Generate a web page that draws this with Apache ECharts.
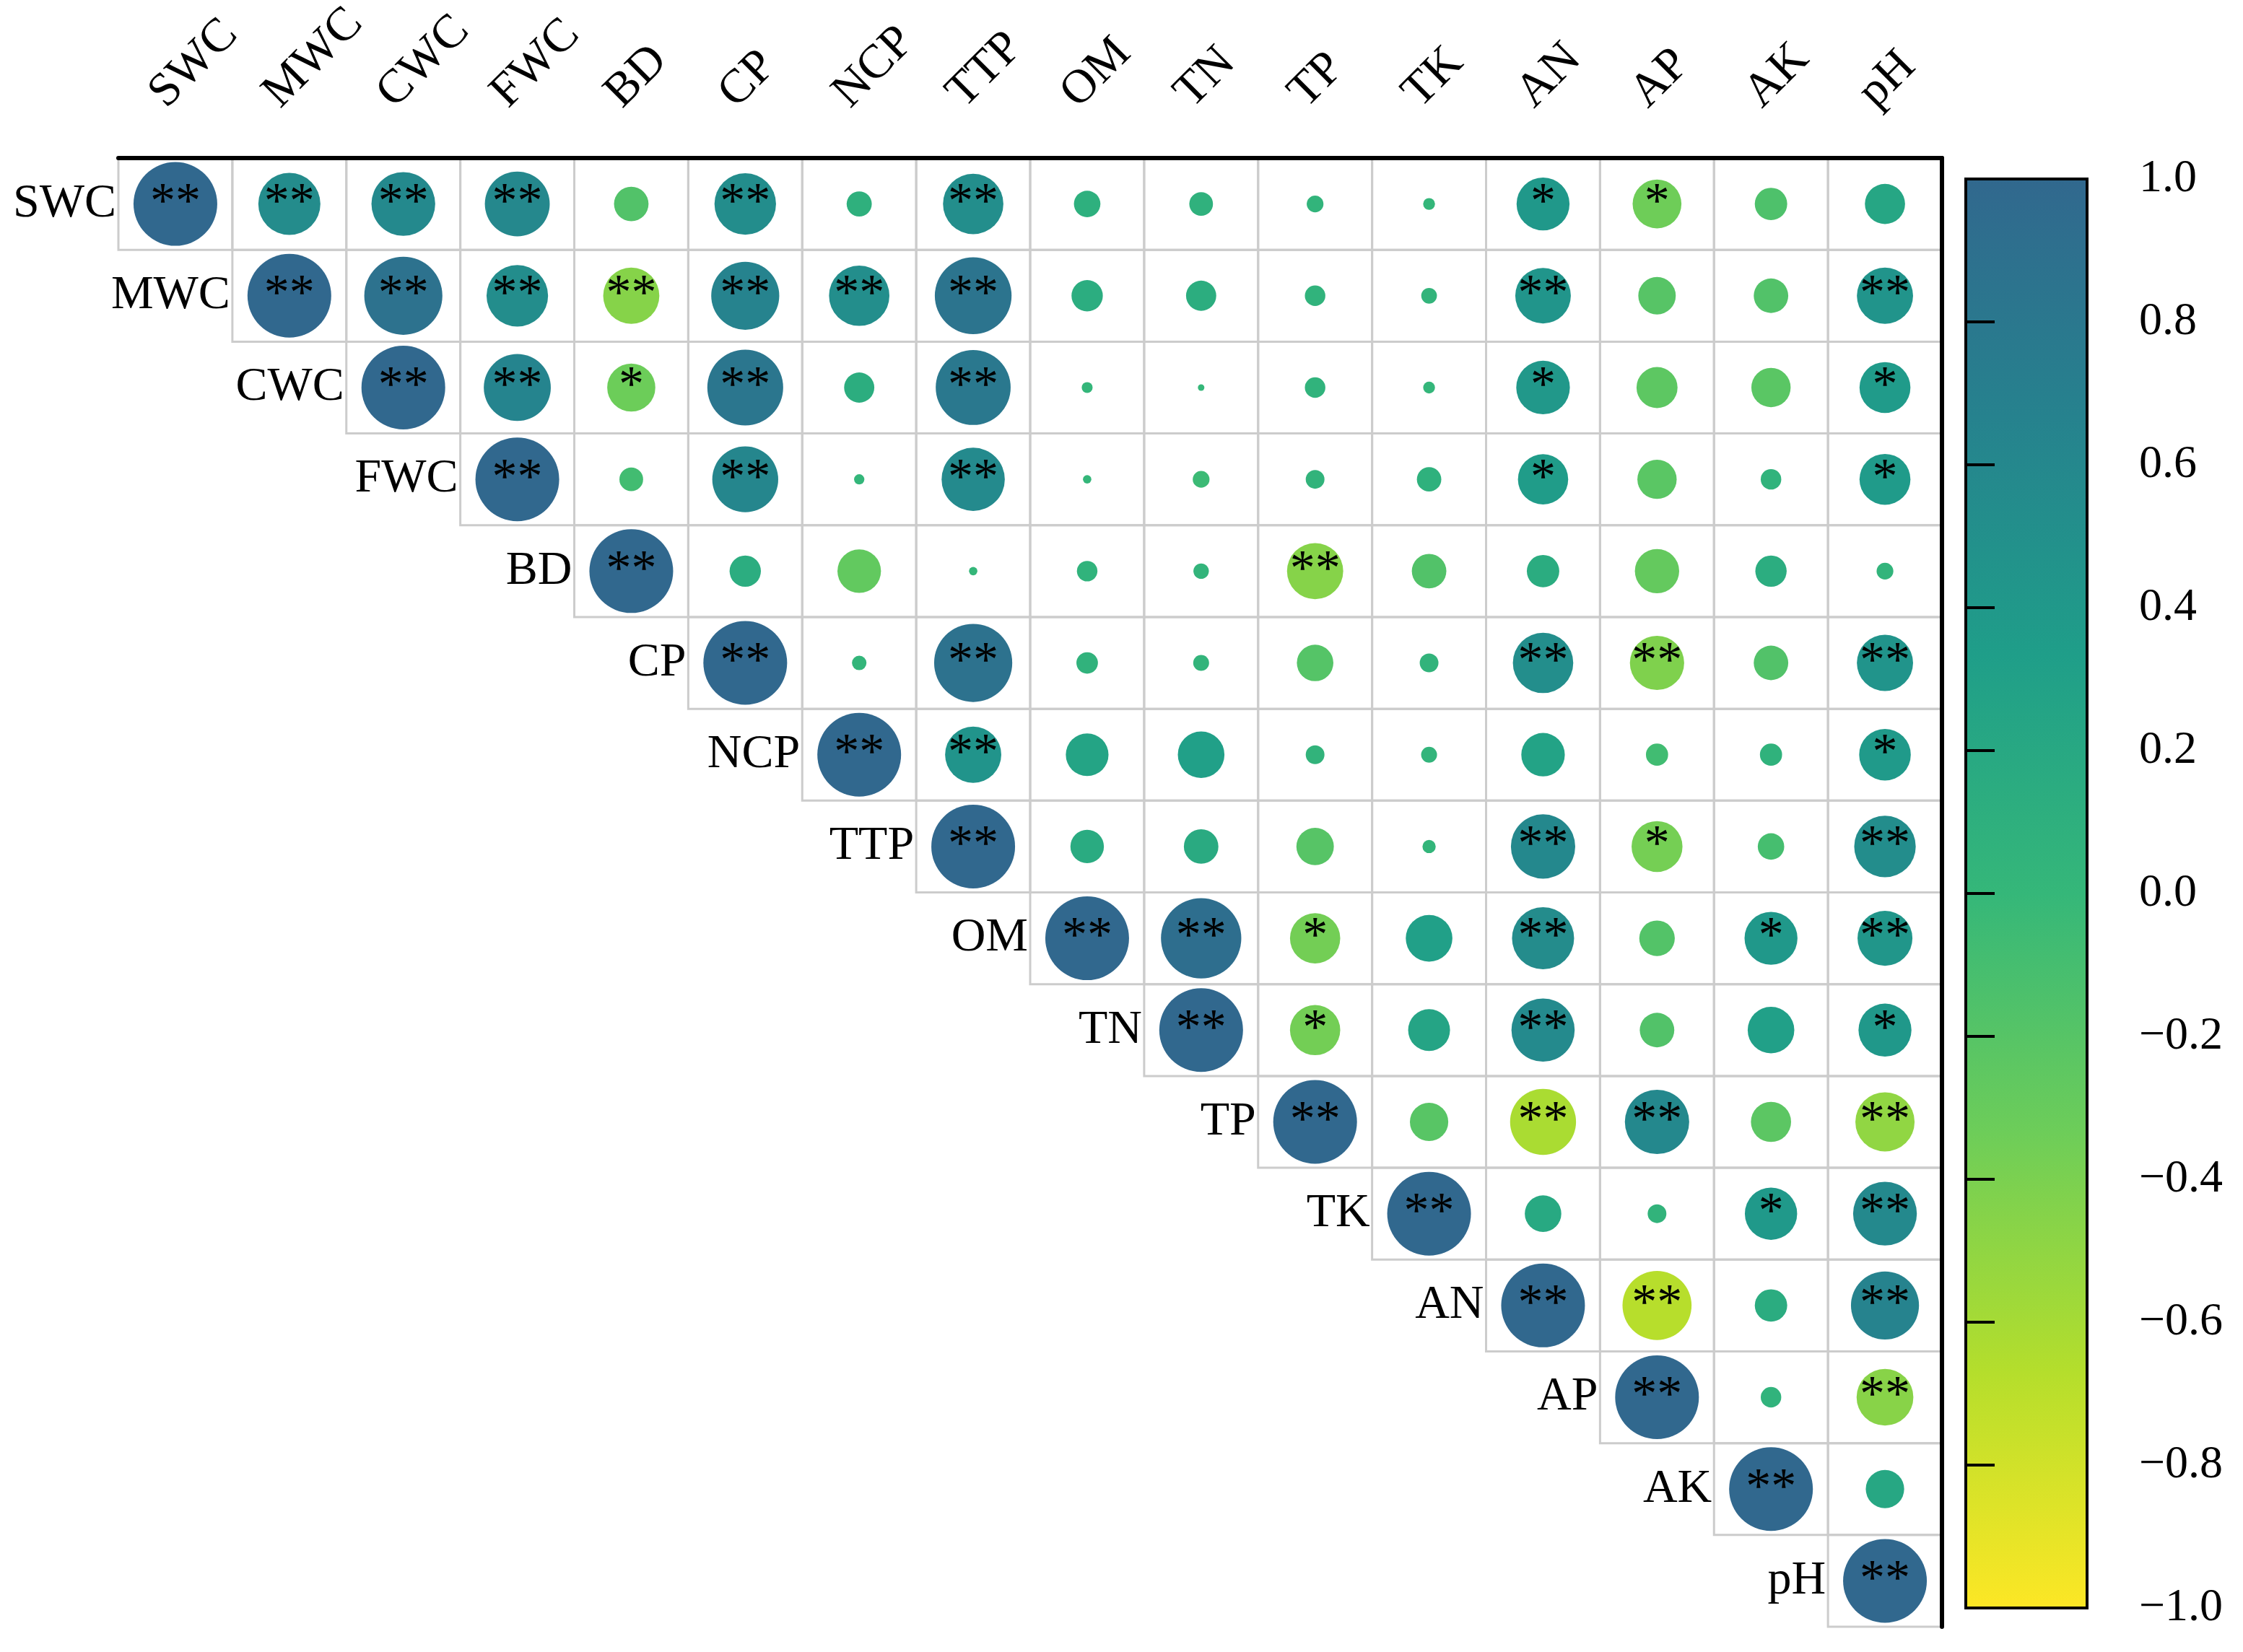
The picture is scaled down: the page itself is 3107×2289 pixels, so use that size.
<!DOCTYPE html>
<html>
<head>
<meta charset="utf-8">
<script src="https://cdn.jsdelivr.net/npm/echarts@6/dist/echarts.min.js"></script>
<style>
  html, body { margin: 0; padding: 0; background: #fff; }
  #main { width: 3107px; height: 2289px; }
</style>
</head>
<body>
<div id="main"></div>
<script>
// variable names (columns left->right, rows top->bottom)
var vars = ['SWC', 'MWC', 'CWC', 'FWC', 'BD', 'CP', 'NCP', 'TTP', 'OM', 'TN', 'TP', 'TK', 'AN', 'AP', 'AK', 'pH'];

// upper triangle of the correlation matrix, each row starts at the diagonal
var corr = [
	[1, 0.55, 0.58, 0.60, -0.17, 0.54, 0.09, 0.52, 0.10, 0.08, 0.04, 0.02, 0.40, -0.34, -0.15, 0.23],
	[1, 0.87, 0.54, -0.45, 0.66, 0.52, 0.84, 0.14, 0.13, 0.06, 0.035, 0.44, -0.20, -0.17, 0.45],
	[1, 0.64, -0.33, 0.82, 0.13, 0.80, 0.017, 0.006, 0.06, 0.02, 0.41, -0.24, -0.22, 0.37],
	[1, -0.08, 0.62, 0.015, 0.57, 0.01, -0.04, 0.05, 0.085, 0.36, -0.22, 0.06, 0.37],
	[1, 0.14, -0.27, 0.01, 0.06, 0.034, -0.45, -0.17, 0.15, -0.28, 0.14, 0.04],
	[1, 0.03, 0.87, 0.066, 0.036, -0.19, 0.05, 0.52, -0.42, -0.17, 0.45],
	[1, 0.45, 0.26, 0.31, 0.05, 0.036, 0.27, -0.07, 0.07, 0.38],
	[1, 0.16, 0.17, -0.20, 0.025, 0.59, -0.37, -0.10, 0.54],
	[1, 0.92, -0.36, 0.31, 0.55, -0.18, 0.40, 0.43],
	[1, -0.36, 0.25, 0.57, -0.17, 0.31, 0.40],
	[1, -0.21, -0.62, 0.59, -0.23, -0.50],
	[1, 0.19, 0.05, 0.39, 0.58],
	[1, -0.68, 0.15, 0.66],
	[1, 0.06, -0.46],
	[1, 0.21],
	[1]
];

// significance marks, same layout as corr
var sig = [
	['**', '**', '**', '**', '', '**', '', '**', '', '', '', '', '*', '*', '', ''],
	['**', '**', '**', '**', '**', '**', '**', '', '', '', '', '**', '', '', '**'],
	['**', '**', '*', '**', '', '**', '', '', '', '', '*', '', '', '*'],
	['**', '', '**', '', '**', '', '', '', '', '*', '', '', '*'],
	['**', '', '', '', '', '', '**', '', '', '', '', ''],
	['**', '', '**', '', '', '', '', '**', '**', '', '**'],
	['**', '**', '', '', '', '', '', '', '', '*'],
	['**', '', '', '', '', '**', '*', '', '**'],
	['**', '**', '*', '', '**', '', '*', '**'],
	['**', '*', '', '**', '', '', '*'],
	['**', '', '**', '**', '', '**'],
	['**', '', '', '*', '**'],
	['**', '**', '', '**'],
	['**', '', '**'],
	['**', ''],
	['**']
];

// colour scale, from -1 to 1
var palette = ['#FDE725', '#B4DE2C', '#6DCD59', '#35B779', '#1F9E89', '#26828E', '#31688E'];
var cbRange = [-1, 1];
var cbStep = 0.2;
var cbTicks = [1.0, 0.8, 0.6, 0.4, 0.2, 0.0, -0.2, -0.4, -0.6, -0.8, -1.0];

var FONT = '"Liberation Serif", "Times New Roman", serif';
var maxD = 116;

var points = [];
var cells = [];
for (var i = 0; i < corr.length; i++) {
	for (var k = 0; k < corr[i].length; k++) {
		var j = i + k;
		points.push([j, i, corr[i][k], sig[i][k]]);
		cells.push([j, i]);
	}
}
var rowLabels = [];
var colLabels = [];
for (var n = 0; n < vars.length; n++) {
	rowLabels.push([n, n, vars[n]]);
	colLabels.push([n, 0, vars[n]]);
}
var cbLabels = cbTicks.map(function (v) { return [1, v]; });

var stops = [];
for (var s = 0; s < palette.length; s++) {
	stops.push({ offset: s / (palette.length - 1), color: palette[palette.length - 1 - s] });
}

function fmtTick(v) {
	return (v < -1e-9 ? '\u2212' : '') + Math.abs(v).toFixed(1);
}

var myChart = echarts.init(document.getElementById('main'));
var option = {
	backgroundColor: '#fff',
	animation: false,
	textStyle: { fontFamily: FONT, color: '#000' },
	grid: [
		{ left: 164, top: 219, width: 2526, height: 2035 },
		{ left: 2723, top: 248, width: 168, height: 1980 }
	],
	xAxis: [
		{
			type: 'category', gridIndex: 0, data: vars, position: 'top', z: 10,
			axisLine: { show: true, lineStyle: { color: '#000', width: 6 } },
			axisTick: { show: false }, axisLabel: { show: false }, splitLine: { show: false }
		},
		{ type: 'value', gridIndex: 1, min: 0, max: 1, show: false }
	],
	yAxis: [
		{
			type: 'category', gridIndex: 0, data: vars, inverse: true, position: 'right', z: 10,
			axisLine: { show: true, lineStyle: { color: '#000', width: 6 } },
			axisTick: { show: false }, axisLabel: { show: false }, splitLine: { show: false }
		},
		{
			type: 'value', gridIndex: 1, min: cbRange[0], max: cbRange[1], interval: cbStep,
			position: 'right', z: 10,
			axisLine: { show: true, lineStyle: { color: '#000', width: 4 } },
			axisTick: { show: true, inside: false, length: 40, lineStyle: { color: '#000', width: 4 } },
			splitLine: { show: false },
			axisLabel: { show: false }
		}
	],
	visualMap: {
		show: false, type: 'continuous', seriesIndex: 1, dimension: 2,
		min: cbRange[0], max: cbRange[1],
		inRange: { color: palette }
	},
	series: [
		{
			// cell borders of the upper triangle
			type: 'custom', xAxisIndex: 0, yAxisIndex: 0, z: 1, silent: true,
			data: cells,
			renderItem: function (params, api) {
				var c = api.coord([api.value(0), api.value(1)]);
				var sz = api.size([1, 1]);
				return {
					type: 'rect',
					shape: { x: c[0] - sz[0] / 2, y: c[1] - sz[1] / 2, width: sz[0], height: sz[1] },
					style: { fill: null, stroke: '#cccccc', lineWidth: 3 }
				};
			}
		},
		{
			type: 'scatter', xAxisIndex: 0, yAxisIndex: 0, z: 3, silent: true,
			symbol: 'circle',
			data: points,
			symbolSize: function (val) { return maxD * Math.sqrt(Math.abs(val[2])); },
			itemStyle: { opacity: 1 },
			label: {
				show: true, position: 'inside', color: '#000',
				fontSize: 70, fontFamily: FONT,
				formatter: function (p) { return p.data[3]; }
			},
			emphasis: { disabled: true }
		},
		{
			// row names, right aligned before the diagonal cell
			type: 'custom', xAxisIndex: 0, yAxisIndex: 0, clip: false, silent: true,
			data: rowLabels,
			renderItem: function (params, api) {
				var c = api.coord([api.value(0), api.value(1)]);
				var sz = api.size([1, 1]);
				return {
					type: 'text', x: c[0] - sz[0] / 2 - 3, y: c[1],
					style: {
						text: rowLabels[params.dataIndex][2],
						fill: '#000', fontSize: 66, fontFamily: FONT,
						align: 'right', verticalAlign: 'middle'
					}
				};
			}
		},
		{
			// rotated column names above the top line
			type: 'custom', xAxisIndex: 0, yAxisIndex: 0, clip: false, silent: true,
			data: colLabels,
			renderItem: function (params, api) {
				var c = api.coord([api.value(0), api.value(1)]);
				var sz = api.size([1, 1]);
				return {
					type: 'text', x: c[0] - 25, y: c[1] - sz[1] / 2 - 80,
					rotation: Math.PI / 4,
					style: {
						text: colLabels[params.dataIndex][2],
						fill: '#000', fontSize: 66, fontFamily: FONT,
						align: 'left', verticalAlign: 'middle'
					}
				};
			}
		},
		{
			// colour bar
			type: 'custom', xAxisIndex: 1, yAxisIndex: 1, silent: true, z: 2,
			data: [[0, cbRange[1]]],
			renderItem: function (params, api) {
				var tl = api.coord([0, cbRange[1]]);
				var br = api.coord([1, cbRange[0]]);
				return {
					type: 'rect',
					shape: { x: tl[0], y: tl[1], width: br[0] - tl[0], height: br[1] - tl[1] },
					style: {
						fill: new echarts.graphic.LinearGradient(0, 0, 0, 1, stops),
						stroke: '#000', lineWidth: 4
					}
				};
			}
		},
		{
			// colour bar tick labels
			type: 'custom', xAxisIndex: 1, yAxisIndex: 1, clip: false, silent: true, z: 3,
			data: cbLabels,
			renderItem: function (params, api) {
				var c = api.coord([api.value(0), api.value(1)]);
				return {
					type: 'text', x: c[0] + 72, y: c[1],
					style: {
						text: fmtTick(cbLabels[params.dataIndex][1]),
						fill: '#000', fontSize: 64, fontFamily: FONT,
						align: 'left', verticalAlign: 'middle'
					}
				};
			}
		}
	]
};
myChart.setOption(option, true);
</script>
</body>
</html>
